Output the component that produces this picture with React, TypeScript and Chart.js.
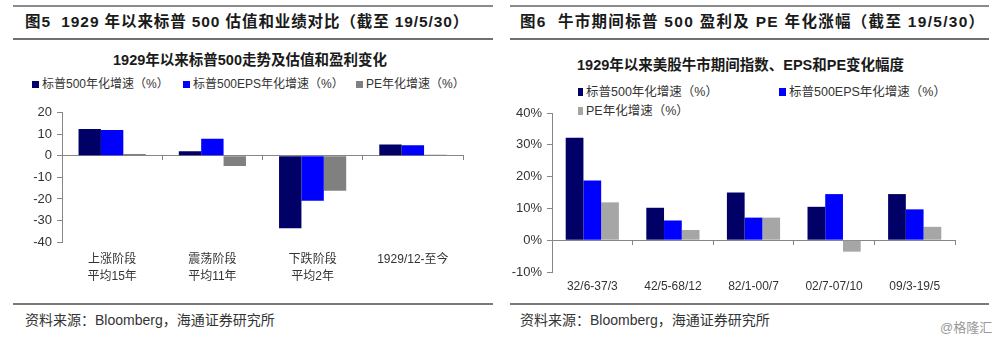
import React, { useEffect, useRef } from 'react';
import { Chart, registerables } from 'chart.js';
Chart.register(...registerables);

const FONT = '"Liberation Sans", "Noto Sans CJK SC", sans-serif';

// ---------- data: left chart (图5) ----------
const leftCategories: (string | string[])[] = [
  ['上涨阶段', '平均15年'],
  ['震荡阶段', '平均11年'],
  ['下跌阶段', '平均2年'],
  '1929/12-至今',
];
const leftIndexGrowth = [12.5, 2.1, -33.6, 5.3];
const leftEpsGrowth = [12.0, 7.9, -20.8, 4.9];
const leftPeGrowth = [0.9, -4.7, -16.2, 0.5];
const leftYTicks = [20, 10, 0, -10, -20, -30, -40];

// ---------- data: right chart (图6) ----------
const rightCategories = ['32/6-37/3', '42/5-68/12', '82/1-00/7', '02/7-07/10', '09/3-19/5'];
const rightIndexGrowth = [32.2, 10.2, 15.0, 10.5, 14.5];
const rightEpsGrowth = [18.8, 6.2, 7.1, 14.5, 9.7];
const rightPeGrowth = [11.9, 3.2, 7.1, -3.6, 4.2];
const rightYTicks = [40, 30, 20, 10, 0, -10];

const seriesNames = ['标普500年化增速（%）', '标普500EPS年化增速（%）', 'PE年化增速（%）'];

const NAVY = '#000066';
const BLUE = '#0000FF';
const GRAY_L = '#808080';
const GRAY_R = '#A6A6A6';
const AXIS = '#868686';

function buildConfig(p: {
  labels: any[];
  series: number[][];
  colors: string[];
  ticks: number[];
  fmt: (v: number) => string;
  yWidth: number;
  xHeight: number;
  padTop: number;
  padRight: number;
  catPct: number;
  xFontSize: number;
  xLineHeight: number;
  xPad: number;
}): any {
  const min = Math.min(...p.ticks);
  const max = Math.max(...p.ticks);
  return {
    type: 'bar',
    data: {
      labels: p.labels,
      datasets: p.series.map((d, i) => ({
        label: seriesNames[i],
        data: d,
        backgroundColor: p.colors[i],
        borderWidth: 0,
        categoryPercentage: p.catPct,
        barPercentage: 1,
        xAxisID: 'x',
        yAxisID: 'y',
      })),
    },
    options: {
      animation: false,
      responsive: false,
      maintainAspectRatio: false,
      layout: { padding: { top: p.padTop, right: p.padRight, left: 0, bottom: 0 } },
      plugins: { legend: { display: false }, title: { display: false }, tooltip: { enabled: false } },
      scales: {
        y: {
          type: 'linear',
          position: 'left',
          min,
          max,
          afterBuildTicks: (s: any) => {
            s.ticks = p.ticks.map((v) => ({ value: v }));
          },
          afterFit: (s: any) => {
            s.width = p.yWidth;
          },
          ticks: {
            color: '#333333',
            font: { family: FONT, size: 13 },
            padding: 5,
            callback: (v: any) => p.fmt(Number(v)),
          },
          grid: { drawOnChartArea: false, drawTicks: true, tickLength: 5, color: AXIS, lineWidth: 1 },
          border: { display: true, color: AXIS, width: 1 },
        },
        x: {
          type: 'category',
          position: { y: 0 },
          offset: true,
          ticks: { display: false },
          grid: { offset: true, drawOnChartArea: false, drawTicks: true, tickLength: 4, color: AXIS, lineWidth: 1 },
          border: { display: true, color: AXIS, width: 1 },
        },
        x2: {
          type: 'category',
          position: 'bottom',
          offset: true,
          afterFit: (s: any) => {
            s.height = p.xHeight;
          },
          ticks: {
            autoSkip: false,
            maxRotation: 0,
            minRotation: 0,
            color: '#333333',
            padding: p.xPad,
            font: { family: FONT, size: p.xFontSize, lineHeight: p.xLineHeight },
          },
          grid: { display: false, drawTicks: false },
          border: { display: false },
        },
      },
    },
  };
}

function ChartCanvas(props: { config: any; left: number; top: number; width: number; height: number }) {
  const ref = useRef<HTMLCanvasElement | null>(null);
  useEffect(() => {
    if (!ref.current) return;
    const chart = new Chart(ref.current, props.config);
    return () => chart.destroy();
  }, []);
  return (
    <canvas
      ref={ref}
      width={props.width}
      height={props.height}
      style={{ position: 'absolute', left: props.left, top: props.top, width: props.width, height: props.height }}
    />
  );
}

function Text(props: { x: number; y: number; text: string; size: number; bold?: boolean; color?: string; center?: boolean; spacing?: number }) {
  const lh = Math.round(props.size * 1.4);
  return (
    <div
      style={{
        position: 'absolute',
        left: props.center ? props.x - 300 : props.x,
        width: props.center ? 600 : undefined,
        textAlign: props.center ? 'center' : 'left',
        top: props.y - lh / 2,
        lineHeight: lh + 'px',
        fontSize: props.size,
        fontWeight: props.bold ? 700 : 400,
        color: props.color || '#222222',
        fontFamily: FONT,
        whiteSpace: 'pre',
        letterSpacing: props.spacing ? props.spacing + 'px' : undefined,
      }}
    >
      {props.text}
    </div>
  );
}

function Rule(props: { x1: number; x2: number; y: number; h: number; color: string }) {
  return (
    <div
      style={{ position: 'absolute', left: props.x1, top: props.y, width: props.x2 - props.x1, height: props.h, background: props.color }}
    />
  );
}

function LegendItem(props: { x: number; y: number; color: string; text: string; size: number; bw: number; bh: number }) {
  return (
    <>
      <div
        style={{ position: 'absolute', left: props.x, top: props.y - props.bh / 2, width: props.bw, height: props.bh, background: props.color }}
      />
      <Text x={props.x + props.bw + 3} y={props.y} text={props.text} size={props.size} color="#333333" />
    </>
  );
}

export default function App() {
  const leftCfg = buildConfig({
    labels: leftCategories,
    series: [leftIndexGrowth, leftEpsGrowth, leftPeGrowth],
    colors: [NAVY, BLUE, GRAY_L],
    ticks: leftYTicks,
    fmt: (v) => String(v),
    yWidth: 62,
    xHeight: 48,
    padTop: 10,
    padRight: 12,
    catPct: 0.67,
    xFontSize: 12,
    xLineHeight: 1.45,
    xPad: 9,
  });
  const rightCfg = buildConfig({
    labels: rightCategories,
    series: [rightIndexGrowth, rightEpsGrowth, rightPeGrowth],
    colors: [NAVY, BLUE, GRAY_R],
    ticks: rightYTicks,
    fmt: (v) => v + '%',
    yWidth: 52,
    xHeight: 28,
    padTop: 13,
    padRight: 15,
    catPct: 0.66,
    xFontSize: 12,
    xLineHeight: 1.2,
    xPad: 7,
  });

  return (
    <div style={{ position: 'absolute', left: 0, top: 0, width: 1000, height: 341, background: '#ffffff', overflow: 'hidden' }}>
      {/* header rules */}
      <Rule x1={13} x2={493} y={5} h={1.5} color="#8a8a8a" />
      <Rule x1={510} x2={989} y={5} h={1.5} color="#8a8a8a" />
      <Rule x1={13} x2={493} y={38} h={2} color="#707070" />
      <Rule x1={510} x2={989} y={38} h={2} color="#707070" />

      <Text x={25} y={22} size={15.5} bold spacing={0.9} text="图5  1929 年以来标普 500 估值和业绩对比（截至 19/5/30）" color="#1a1a1a" />
      <Text x={520} y={22} size={15.5} bold spacing={1.3} text="图6  牛市期间标普 500 盈利及 PE 年化涨幅（截至 19/5/30）" color="#1a1a1a" />

      {/* chart titles */}
      <Text x={250} y={60} size={14.5} bold center text="1929年以来标普500走势及估值和盈利变化" color="#1a1a1a" />
      <Text x={577} y={65} size={14.5} bold text="1929年以来美股牛市期间指数、EPS和PE变化幅度" color="#1a1a1a" />

      {/* legends */}
      <LegendItem x={32} y={84} color={NAVY} text={seriesNames[0]} size={12} bw={7} bh={7} />
      <LegendItem x={183} y={84} color={BLUE} text={seriesNames[1]} size={12} bw={7} bh={7} />
      <LegendItem x={356} y={84} color={GRAY_L} text={seriesNames[2]} size={12} bw={7} bh={7} />

      <LegendItem x={578} y={92} color={NAVY} text={seriesNames[0]} size={12.5} bw={5} bh={8} />
      <LegendItem x={779} y={92} color={BLUE} text={seriesNames[1]} size={12.5} bw={7} bh={8} />
      <LegendItem x={578} y={111} color={GRAY_R} text={seriesNames[2]} size={12.5} bw={5} bh={8} />

      <ChartCanvas config={leftCfg} left={0} top={100} width={475} height={190} />
      <ChartCanvas config={rightCfg} left={500} top={100} width={470} height={200} />

      {/* footer */}
      <Rule x1={13} x2={493} y={303} h={2} color="#7a7a7a" />
      <Rule x1={510} x2={989} y={303} h={2} color="#7a7a7a" />
      <Text x={25} y={320} size={14} text="资料来源：Bloomberg，海通证券研究所" color="#333333" />
      <Text x={520} y={320} size={14} text="资料来源：Bloomberg，海通证券研究所" color="#333333" />
      <Text x={940} y={328} size={13} text="@格隆汇" color="#999999" />
    </div>
  );
}
